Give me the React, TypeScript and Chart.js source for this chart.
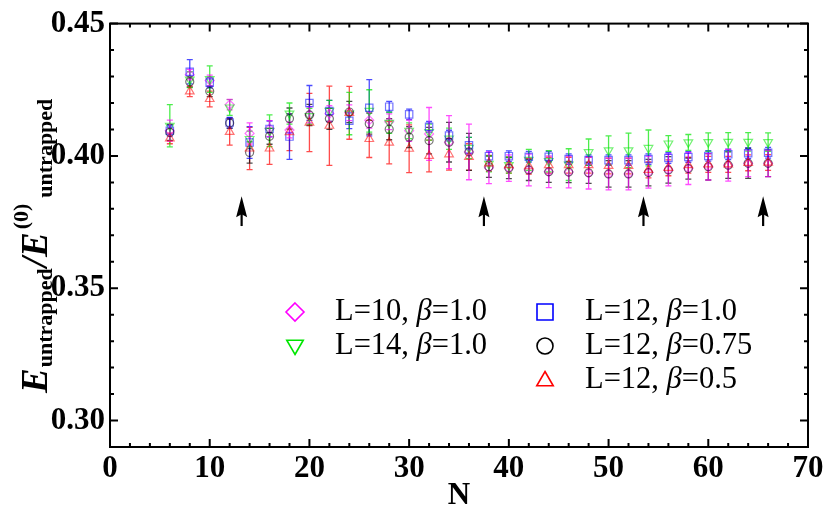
import React, { useEffect, useRef } from 'react';
import { Chart, registerables } from 'chart.js';

Chart.register(...registerables);

// ---------------- data ----------------
const N = [6, 8, 10, 12, 14, 16, 18, 20, 22, 24, 26, 28, 30, 32, 34, 36, 38, 40, 42, 44, 46, 48, 50, 52, 54, 56, 58, 60, 62, 64, 66];

const L10_b10 = [0.4095, 0.4307, 0.4285, 0.4194, 0.4085, 0.4103, 0.4098, 0.4155, 0.416, 0.4163, 0.4135, 0.4129, 0.4095, 0.4083, 0.4052, 0.4015, 0.3955, 0.3954, 0.3947, 0.394, 0.3939, 0.3935, 0.3932, 0.3932, 0.3938, 0.3947, 0.3952, 0.3959, 0.3965, 0.3972, 0.3972];
const L10_b10_err = [0.004, 0.002, 0.002, 0.002, 0.004, 0.003, 0.003, 0.003, 0.003, 0.003, 0.003, 0.003, 0.004, 0.01, 0.01, 0.0105, 0.006, 0.005, 0.006, 0.006, 0.006, 0.006, 0.006, 0.006, 0.006, 0.006, 0.006, 0.005, 0.006, 0.005, 0.005];

const L14_b10 = [0.4114, 0.4288, 0.429, 0.4183, 0.4064, 0.4095, 0.416, 0.415, 0.417, 0.416, 0.417, 0.4125, 0.4095, 0.409, 0.4065, 0.403, 0.397, 0.3965, 0.3985, 0.398, 0.3967, 0.4014, 0.4021, 0.4021, 0.403, 0.4047, 0.4051, 0.4052, 0.4053, 0.4053, 0.4052];
const L14_b10_err = [0.008, 0.003, 0.005, 0.003, 0.003, 0.006, 0.004, 0.003, 0.004, 0.008, 0.008, 0.004, 0.003, 0.003, 0.004, 0.004, 0.003, 0.003, 0.004, 0.004, 0.006, 0.005, 0.0055, 0.0065, 0.0068, 0.003, 0.003, 0.0035, 0.0035, 0.0035, 0.0035];

const L12_b10 = [0.4095, 0.4318, 0.4277, 0.4126, 0.4051, 0.4102, 0.4073, 0.42, 0.417, 0.4133, 0.4182, 0.4186, 0.4157, 0.411, 0.4077, 0.404, 0.3999, 0.3999, 0.3997, 0.3997, 0.3988, 0.3984, 0.3984, 0.3984, 0.3988, 0.3992, 0.3996, 0.4, 0.4006, 0.401, 0.4012];
const L12_b10_err = [0.002, 0.0046, 0.002, 0.002, 0.006, 0.003, 0.0086, 0.0066, 0.004, 0.003, 0.0106, 0.002, 0.002, 0.002, 0.002, 0.003, 0.002, 0.002, 0.002, 0.002, 0.002, 0.002, 0.002, 0.002, 0.002, 0.002, 0.002, 0.002, 0.002, 0.002, 0.002];

const L12_b075 = [0.4089, 0.428, 0.4244, 0.4124, 0.4013, 0.4074, 0.4141, 0.4155, 0.414, 0.4166, 0.4122, 0.4101, 0.4071, 0.4058, 0.4052, 0.4015, 0.3959, 0.3954, 0.3947, 0.394, 0.3939, 0.3936, 0.3932, 0.3932, 0.3937, 0.3947, 0.3952, 0.3959, 0.3965, 0.3972, 0.3972];
const L12_b075_err = [0.003, 0.002, 0.002, 0.002, 0.004, 0.003, 0.004, 0.004, 0.004, 0.004, 0.004, 0.004, 0.004, 0.005, 0.0075, 0.007, 0.004, 0.004, 0.004, 0.004, 0.004, 0.004, 0.005, 0.005, 0.005, 0.005, 0.004, 0.005, 0.005, 0.0057, 0.005];

const L12_b05 = [0.4066, 0.4244, 0.4215, 0.4091, 0.4028, 0.4028, 0.409, 0.4126, 0.4114, 0.4163, 0.4064, 0.405, 0.4027, 0.4, 0.4006, 0.3996, 0.3972, 0.3965, 0.3961, 0.3965, 0.3965, 0.3965, 0.3962, 0.3962, 0.3947, 0.3955, 0.3965, 0.3968, 0.3968, 0.3974, 0.3975];
const L12_b05_err = [0.002, 0.002, 0.003, 0.005, 0.008, 0.006, 0.007, 0.011, 0.015, 0.01, 0.007, 0.008, 0.009, 0.006, 0.006, 0.005, 0.003, 0.003, 0.003, 0.003, 0.003, 0.003, 0.003, 0.003, 0.003, 0.003, 0.003, 0.003, 0.003, 0.003, 0.003];

const seriesLabels = ['L=10, β=1.0', 'L=14, β=1.0', 'L=12, β=1.0', 'L=12, β=0.75', 'L=12, β=0.5'];

const xTickValues = [0, 10, 20, 30, 40, 50, 60, 70];
const yTickValues = [0.3, 0.35, 0.4, 0.45];

const arrowN = [13.2, 37.5, 53.5, 65.5];
const arrowTail = 0.3735;
const arrowHead = 0.3848;

// ---------------- styles ----------------
const SERIF = '"Liberation Serif", "Times New Roman", serif';

type Series = {
  label: string;
  values: number[];
  errors: number[];
  rgb: string;
  style: string;
  rotation: number;
  radius: number;
  legendSlot: [number, number];
};

const SERIES: Series[] = [
  { label: seriesLabels[0], values: L10_b10, errors: L10_b10_err, rgb: '255,0,255', style: 'rectRot', rotation: 0, radius: 4.5, legendSlot: [0, 0] },
  { label: seriesLabels[1], values: L14_b10, errors: L14_b10_err, rgb: '0,230,0', style: 'triangle', rotation: 180, radius: 5, legendSlot: [0, 1] },
  { label: seriesLabels[2], values: L12_b10, errors: L12_b10_err, rgb: '0,0,255', style: 'rect', rotation: 0, radius: 5.2, legendSlot: [1, 0] },
  { label: seriesLabels[3], values: L12_b075, errors: L12_b075_err, rgb: '0,0,0', style: 'circle', rotation: 0, radius: 4, legendSlot: [1, 1] },
  { label: seriesLabels[4], values: L12_b05, errors: L12_b05_err, rgb: '255,0,0', style: 'triangle', rotation: 0, radius: 5, legendSlot: [1, 2] },
];

function markerPath(ctx: CanvasRenderingContext2D, style: string, x: number, y: number, r: number, rotation: number) {
  ctx.beginPath();
  if (style === 'circle') {
    ctx.arc(x, y, r, 0, Math.PI * 2);
  } else if (style === 'rect') {
    ctx.rect(x - r, y - r, 2 * r, 2 * r);
  } else if (style === 'rectRot') {
    ctx.moveTo(x, y - r);
    ctx.lineTo(x + r, y);
    ctx.lineTo(x, y + r);
    ctx.lineTo(x - r, y);
    ctx.closePath();
  } else if (style === 'triangle') {
    const s = rotation === 180 ? -1 : 1;
    ctx.moveTo(x, y - s * r);
    ctx.lineTo(x + r * 0.866, y + s * r * 0.5);
    ctx.lineTo(x - r * 0.866, y + s * r * 0.5);
    ctx.closePath();
  }
}

const errorBarPlugin = {
  id: 'errorBars',
  beforeDatasetsDraw(chart: any) {
    const ctx: CanvasRenderingContext2D = chart.ctx;
    const xs = chart.scales.x;
    const ys = chart.scales.y;
    ctx.save();
    ctx.lineWidth = 1.3;
    for (let d = SERIES.length - 1; d >= 0; d--) {
      const s = SERIES[d];
      ctx.strokeStyle = `rgba(${s.rgb},0.7)`;
      for (let i = 0; i < N.length; i++) {
        const x = xs.getPixelForValue(N[i]);
        const y1 = ys.getPixelForValue(s.values[i] - s.errors[i]);
        const y2 = ys.getPixelForValue(s.values[i] + s.errors[i]);
        ctx.beginPath();
        ctx.moveTo(x, y1);
        ctx.lineTo(x, y2);
        ctx.moveTo(x - 3, y1);
        ctx.lineTo(x + 3, y1);
        ctx.moveTo(x - 3, y2);
        ctx.lineTo(x + 3, y2);
        ctx.stroke();
      }
    }
    ctx.restore();
  },
};

const framePlugin = {
  id: 'frame',
  afterDraw(chart: any) {
    const ctx: CanvasRenderingContext2D = chart.ctx;
    const { left, right, top, bottom } = chart.chartArea;
    const xs = chart.scales.x;
    const ys = chart.scales.y;
    ctx.save();
    ctx.strokeStyle = '#000';
    ctx.lineWidth = 2;
    ctx.strokeRect(left, top, right - left, bottom - top);
    ctx.beginPath();
    for (let v = 0; v <= 70; v += 2) {
      const x = xs.getPixelForValue(v);
      const len = v % 10 === 0 ? 8 : 4;
      ctx.moveTo(x, bottom);
      ctx.lineTo(x, bottom - len);
      ctx.moveTo(x, top);
      ctx.lineTo(x, top + len);
    }
    for (let k = 29; k <= 45; k++) {
      const y = ys.getPixelForValue(k / 100);
      const len = k % 5 === 0 ? 8 : 4;
      ctx.moveTo(left, y);
      ctx.lineTo(left + len, y);
      ctx.moveTo(right, y);
      ctx.lineTo(right - len, y);
    }
    ctx.stroke();

    // arrows
    ctx.fillStyle = '#000';
    ctx.lineWidth = 2.2;
    for (const a of arrowN) {
      const x = xs.getPixelForValue(a);
      const yt = ys.getPixelForValue(arrowTail);
      const yh = ys.getPixelForValue(arrowHead);
      ctx.beginPath();
      ctx.moveTo(x, yt);
      ctx.lineTo(x, yh + 12);
      ctx.stroke();
      ctx.beginPath();
      ctx.moveTo(x, yh);
      ctx.lineTo(x + 5.5, yh + 21);
      ctx.lineTo(x, yh + 18);
      ctx.lineTo(x - 5.5, yh + 21);
      ctx.closePath();
      ctx.fill();
    }

    // y-axis title with sub/superscripts
    ctx.save();
    ctx.translate(47, 393);
    ctx.rotate(-Math.PI / 2);
    ctx.textBaseline = 'alphabetic';
    ctx.textAlign = 'left';
    const big = `bold italic 37px ${SERIF}`;
    const small = `bold 22px ${SERIF}`;
    const parts: { t: string; f: string; dy: number; gap: number }[] = [
      { t: 'E', f: big, dy: 0, gap: 1 },
      { t: 'untrapped', f: small, dy: 5, gap: 1 },
      { t: '/', f: big, dy: 0, gap: 0 },
      { t: 'E', f: big, dy: 0, gap: 3 },
      { t: '(0)', f: small, dy: -19, gap: 6 },
      { t: 'untrapped', f: small, dy: 5, gap: 0 },
    ];
    let px = 0;
    for (const p of parts) {
      ctx.font = p.f;
      ctx.fillText(p.t, px, p.dy);
      px += ctx.measureText(p.t).width + p.gap;
    }
    ctx.restore();

    // legend
    const colMarkerX = [295, 545];
    const colTextX = [335, 585];
    const rowY = [312, 346, 380];
    for (const s of SERIES) {
      const [c, r] = s.legendSlot;
      const mx = colMarkerX[c];
      const my = rowY[r];
      ctx.lineWidth = 1.6;
      ctx.strokeStyle = `rgb(${s.rgb})`;
      const lr = s.style === 'rect' ? 8 : s.style === 'circle' ? 8 : s.style === 'rectRot' ? 9 : 9.5;
      markerPath(ctx, s.style, mx, my + (s.style === 'triangle' ? (s.rotation === 180 ? -1 : 1) : 0), lr, s.rotation);
      ctx.stroke();
      ctx.fillStyle = '#000';
      ctx.textBaseline = 'alphabetic';
      let tx = colTextX[c];
      const pieces = s.label.split('β');
      for (let i = 0; i < pieces.length; i++) {
        ctx.font = `30.5px ${SERIF}`;
        ctx.fillText(pieces[i], tx, my + 8);
        tx += ctx.measureText(pieces[i]).width;
        if (i < pieces.length - 1) {
          ctx.font = `italic 30.5px ${SERIF}`;
          ctx.fillText('β', tx, my + 8);
          tx += ctx.measureText('β').width;
        }
      }
    }
    ctx.restore();
  },
};

export default function App() {
  const ref = useRef<HTMLCanvasElement | null>(null);
  useEffect(() => {
    if (!ref.current) return;
    const datasets = SERIES.map((s, idx) => ({
      label: s.label,
      data: N.map((n, i) => ({ x: n, y: s.values[i] })),
      showLine: false,
      pointStyle: s.style,
      pointRotation: s.rotation,
      pointRadius: s.radius,
      pointHoverRadius: s.radius,
      pointBorderWidth: 1.2,
      pointBorderColor: `rgba(${s.rgb},0.55)`,
      pointBackgroundColor: 'rgba(0,0,0,0)',
      borderColor: `rgba(${s.rgb},0.55)`,
      backgroundColor: 'rgba(0,0,0,0)',
      order: SERIES.length - idx,
    }));
    const chart = new Chart(ref.current, {
      type: 'scatter',
      data: { datasets },
      options: {
        animation: false,
        responsive: false,
        maintainAspectRatio: false,
        layout: { padding: { top: 16, right: 22, left: 0, bottom: 0 } },
        plugins: { legend: { display: false }, tooltip: { enabled: false } },
        scales: {
          x: {
            type: 'linear',
            min: 0,
            max: 70,
            grid: { display: false, drawTicks: false },
            border: { display: false },
            afterBuildTicks: (scale: any) => {
              scale.ticks = xTickValues.map((v) => ({ value: v }));
            },
            afterFit: (scale: any) => {
              scale.height = 72;
            },
            ticks: {
              color: '#000',
              padding: 3,
              maxRotation: 0,
              autoSkip: false,
              font: { family: SERIF, size: 31, weight: 'bold' },
              callback: (v: any) => String(v),
            },
            title: {
              display: true,
              text: 'N',
              color: '#000',
              padding: { top: 0, bottom: 4 },
              font: { family: SERIF, size: 31, weight: 'bold' },
            },
          },
          y: {
            type: 'linear',
            min: 0.29,
            max: 0.45,
            grid: { display: false, drawTicks: false },
            border: { display: false },
            afterBuildTicks: (scale: any) => {
              scale.ticks = yTickValues.map((v) => ({ value: v }));
            },
            afterFit: (scale: any) => {
              scale.width = 110;
            },
            ticks: {
              color: '#000',
              padding: 5,
              autoSkip: false,
              font: { family: SERIF, size: 31, weight: 'bold' },
              callback: (v: any) => Number(v).toFixed(2),
            },
          },
        },
      } as any,
      plugins: [errorBarPlugin, framePlugin],
    });
    return () => chart.destroy();
  }, []);
  return (
    <div style={{ position: 'fixed', left: 0, top: 0, width: 830, height: 519, background: '#fff' }}>
      <canvas ref={ref} width={830} height={519} style={{ display: 'block' }} />
    </div>
  );
}
